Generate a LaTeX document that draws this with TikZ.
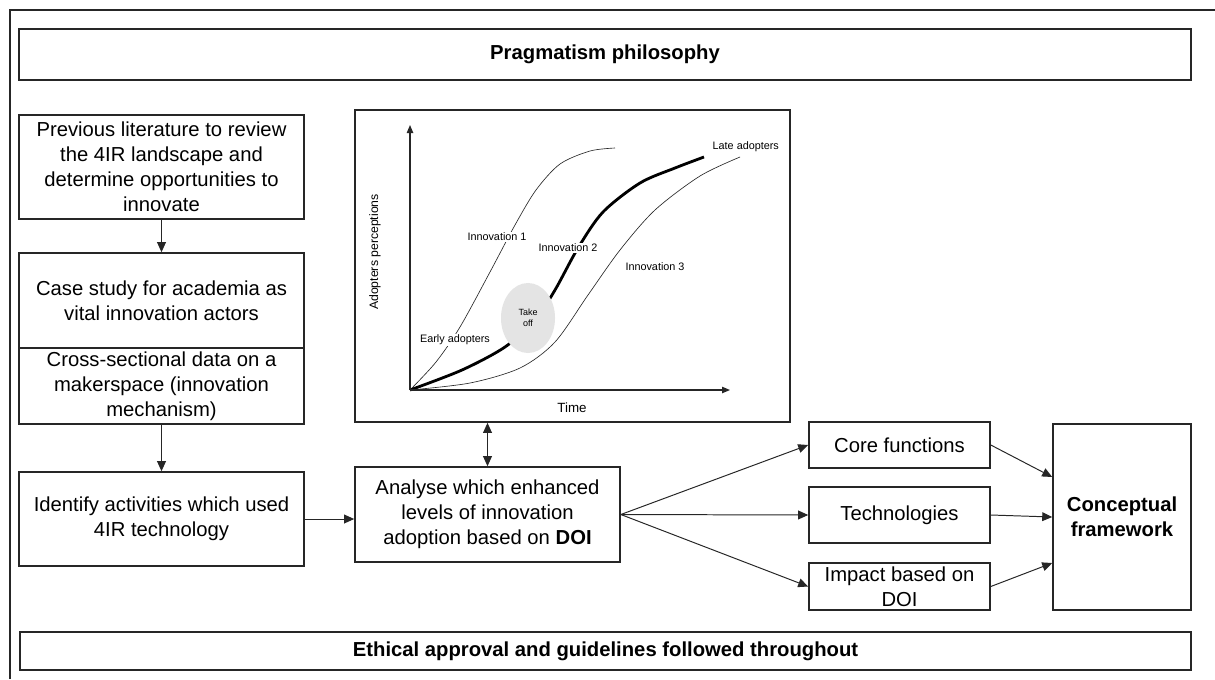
\documentclass[tikz,border=0pt]{standalone}
\usepackage{fontspec}
\setmainfont{Liberation Sans}
\usetikzlibrary{arrows.meta,positioning,shapes.geometric}
\definecolor{FrameInk}{HTML}{262626}
\definecolor{TakeOffFill}{HTML}{E4E4E4}

\begin{document}
\begin{tikzpicture}[
    x=0.025cm, y=-0.025cm,
    font=\fontsize{14.4}{17.8}\selectfont,
    box/.style={
        draw=FrameInk,
        line width=1.1pt,
        fill=white,
        align=center,
        inner sep=2pt
    },
    band/.style={box, font=\fontsize{14.4}{17.8}\selectfont\bfseries},
    flow/.style={-{Triangle[length=2.5mm,width=2.2mm]},
                 draw=FrameInk, line width=0.7pt},
    two way/.style={{Triangle[length=2.5mm,width=2.2mm]}-{Triangle[length=2.5mm,width=2.2mm]},
                    draw=FrameInk, line width=0.7pt},
    axis/.style={-{Triangle[length=2mm,width=1.6mm]},
                 draw=FrameInk, line width=0.8pt},
    adoption/.style={draw=FrameInk, line width=0.45pt},
    main adoption/.style={draw=black, line width=2pt},
    curve label/.style={fill=white, inner sep=1pt,
                        font=\fontsize{7.7}{9}\selectfont}
]
    \useasboundingbox (0,0) rectangle (1215,679);
    \draw[draw=FrameInk, line width=1.4pt] (10,679) -- (10,10) -- (1215,10);

    % Framing bands
    \node[band, minimum width=29.3cm, minimum height=1.275cm] (prag)
        at (605,54.5) {Pragmatism philosophy};
    \node[band, minimum width=29.275cm, minimum height=0.95cm] (ethics)
        at (605.5,651) {Ethical approval and guidelines followed throughout};

    % Left-hand research steps
    \node[box, minimum width=7.125cm, minimum height=2.6cm] (lit) at (161.5,167)
        {Previous literature to review\\the 4IR landscape and\\determine opportunities to\\innovate};
    \node[box, minimum width=7.125cm, minimum height=2.375cm] (case) at (161.5,300.5)
        {Case study for academia as\\vital innovation actors};
    \node[box, minimum width=7.125cm, minimum height=1.9cm] (cross) at (161.5,386)
        {Cross-sectional data on a\\makerspace (innovation\\mechanism)};
    \node[box, minimum width=7.125cm, minimum height=2.35cm] (ident) at (161.5,519)
        {Identify activities which used\\4IR technology};

    \draw[flow] (lit) -- (case);
    \draw[flow] (cross) -- (ident);

    % Diffusion of innovation chart
    \node[box, minimum width=10.875cm, minimum height=7.8cm] (chart) at (572.5,266) {};
    \coordinate (origin) at (410,390);
    \coordinate (ytip) at (410,125);
    \coordinate (xtip) at (730,390);

    \draw[adoption] plot[smooth] coordinates {(origin) (436,362) (460,327)
        (490,272) (515,225) (536,190) (560,164) (590,151) (615,148)};
    \draw[main adoption] plot[smooth] coordinates {(origin) (462,370)
        (505,347) (535,320) (555,290) (578,248) (603,212) (640,183)
        (675,168) (704,157)};
    \draw[adoption] plot[smooth] coordinates {(origin) (470,383) (520,368)
        (555,342) (588,295) (620,250) (655,210) (700,176) (740,157)};

    \draw[axis] (origin) -- (ytip);
    \draw[axis] (origin) -- (xtip);

    \node[ellipse, fill=TakeOffFill, minimum width=1.35cm, minimum height=1.75cm,
          inner sep=0pt, align=center, font=\fontsize{6.4}{7.8}\selectfont]
        (takeoff) at (528,318) {Take\\off};
    \node[curve label] (early) at (455,340) {Early adopters};
    \node[curve label] (inn1) at (497,237) {Innovation 1};
    \node[curve label] (inn2) at (568,248) {Innovation 2};
    \node[curve label] (inn3) at (655,267) {Innovation 3};
    \node[curve label, anchor=west] (late) at (711,147) {Late adopters};
    \node[rotate=90, font=\fontsize{8.7}{10}\selectfont] (yname) at (375,252)
        {Adopters perceptions};
    \node[font=\fontsize{9.5}{11}\selectfont] (xname) at (572,408) {Time};

    % Analysis and outputs
    \node[box, minimum width=6.625cm, minimum height=2.375cm] (analyse) at (487.5,514.5)
        {Analyse which enhanced\\levels of innovation\\adoption based on \textbf{DOI}};
    \node[box, minimum width=4.525cm, minimum height=1.15cm] (core) at (899.5,445)
        {Core functions};
    \node[box, minimum width=4.525cm, minimum height=1.4cm] (tech) at (899.5,515)
        {Technologies};
    \node[box, minimum width=4.525cm, minimum height=1.175cm] (impact) at (899.5,586.5)
        {Impact based on\\DOI};
    \node[box, minimum width=3.45cm, minimum height=4.65cm,
          font=\fontsize{14.4}{17.8}\selectfont\bfseries] (concept) at (1122,517)
        {Conceptual\\framework};

    \draw[flow] (ident.east) -- (ident.east -| analyse.west);
    \draw[two way] (analyse.north) -- (analyse.north |- chart.south);
    \draw[flow] (analyse.east) -- (core.west);
    \draw[flow] (analyse.east) -- (tech.west);
    \draw[flow] (analyse.east) -- (impact.west);
    \draw[flow] (core.east) -- ([yshift=1cm]concept.west);
    \draw[flow] (tech.east) -- (concept.west);
    \draw[flow] (impact.east) -- ([yshift=-1.15cm]concept.west);
\end{tikzpicture}
\end{document}
